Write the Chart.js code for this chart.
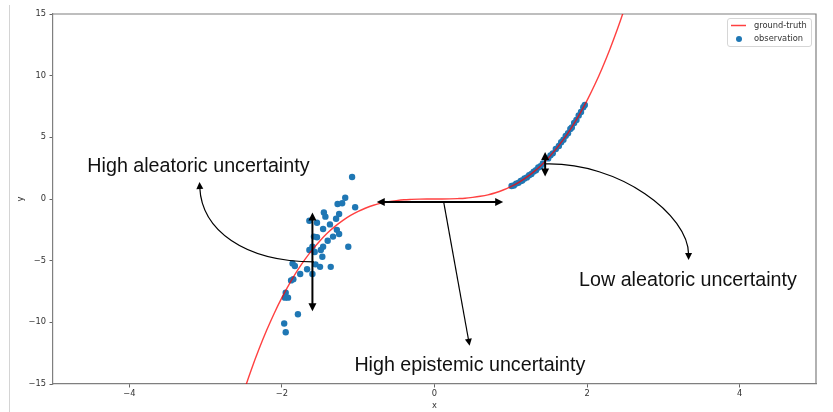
<!DOCTYPE html>
<html>
<head>
<meta charset="utf-8">
<script src="https://cdn.jsdelivr.net/npm/chart.js@4.4.1/dist/chart.umd.min.js"></script>
<style>
  html, body { margin: 0; padding: 0; background: #fff; }
</style>
</head>
<body>
<canvas id="chart" width="833" height="412"></canvas>
<script>
// ground-truth curve
const curveX = [-2.6, -2.5, -2.4, -2.3, -2.2, -2.1, -2.0, -1.9, -1.8, -1.7, -1.6, -1.5, -1.4, -1.3, -1.2, -1.1, -1.0,
  -0.9, -0.8, -0.7, -0.6, -0.5, -0.4, -0.3, -0.2, -0.1, 0.0, 0.1, 0.2, 0.3, 0.4, 0.5, 0.6, 0.7, 0.8, 0.9,
  1.0, 1.1, 1.2, 1.3, 1.4, 1.5, 1.6, 1.7, 1.8, 1.9, 2.0, 2.1, 2.2, 2.3, 2.4, 2.5, 2.6]
const curveY = [-17.58, -15.63, -13.82, -12.17, -10.65, -9.26, -8.0, -6.86, -5.83, -4.91, -4.1, -3.38, -2.74, -2.2, -1.73, -1.33, -1.0,
  -0.73, -0.51, -0.34, -0.22, -0.13, -0.06, -0.03, -0.01, 0.0, 0.0, 0.0, 0.01, 0.03, 0.06, 0.13, 0.22, 0.34, 0.51, 0.73,
  1.0, 1.33, 1.73, 2.2, 2.74, 3.38, 4.1, 4.91, 5.83, 6.86, 8.0, 9.26, 10.65, 12.17, 13.82, 15.63, 17.58]

// observations: noisy cluster on the left, tight cluster on the right
const obsX = [-1.08, -1.17, -1.27, -1.21, -1.04, -1.25, -1.29, -1.45, -1.43, -1.64, -1.54, -1.37, -1.46, -1.28,
  -1.25, -1.33, -1.40, -1.58, -1.54, -1.13, -1.46, -1.49, -1.64, -1.57, -1.47, -1.60, -1.86, -1.83, -1.56,
  -1.50, -1.36, -1.67, -1.60, -1.76, -1.85, -1.88, -1.95, -1.96, -1.92, -1.79, -1.97, -1.95,
  1.01, 1.04, 1.07, 1.10, 1.13, 1.15, 1.18, 1.21, 1.24, 1.27, 1.30, 1.33, 1.36, 1.39, 1.42, 1.49, 1.52,
  1.55, 1.59, 1.63, 1.66, 1.69, 1.72, 1.75, 1.78, 1.80, 1.83, 1.86, 1.89, 1.92, 1.95, 1.97]
const obsY = [1.78, 0.10, -0.40, -0.35, -0.67, -1.22, -1.60, -1.10, -1.43, -1.76, -1.92, -2.06, -2.43, -2.50,
  -2.84, -3.05, -3.38, -3.05, -3.10, -3.87, -3.87, -4.14, -4.14, -4.30, -4.68, -3.87, -5.22, -5.43, -5.30,
  -5.50, -5.50, -5.70, -6.08, -6.08, -6.50, -6.60, -7.60, -8.00, -8.00, -9.35, -10.10, -10.80,
  1.05, 1.10, 1.25, 1.31, 1.46, 1.50, 1.66, 1.75, 1.93, 2.03, 2.22, 2.33, 2.55, 2.66, 2.88, 3.29, 3.54,
  3.70, 4.05, 4.30, 4.60, 4.80, 5.12, 5.33, 5.67, 5.80, 6.16, 6.40, 6.78, 7.05, 7.44, 7.62]

const xTicks = [-4, -2, 0, 2, 4]
const yTicks = [-15, -10, -5, 0, 5, 10, 15]

// annotation arrows and labels, in data units
const arrows = [
  { kind: 'double', pts: [[-1.6, -1.1], [-1.6, -9.1]], lw: 2 },
  { kind: 'double', pts: [[-0.757, -0.24], [0.9, -0.24]], lw: 2 },
  { kind: 'double', pts: [[1.45, 3.81], [1.45, 1.82]], lw: 2 },
  { kind: 'curve', pts: [[-1.58, -5.1], [-2.5, -5.1], [-3.05, -2.5], [-3.08, 1.38]], lw: 1.2 },
  { kind: 'curve', pts: [[1.45, 2.84], [2.43, 3.0], [3.33, -1.3], [3.33, -4.95]], lw: 1.2 },
  { kind: 'single', pts: [[0.12, -0.24], [0.46, -11.9]], lw: 1.2 }
]
const labels = [
  { text: 'High aleatoric uncertainty', at: [-4.55, 2.19] },
  { text: 'Low aleatoric uncertainty', at: [1.895, -7.05] },
  { text: 'High epistemic uncertainty', at: [-1.05, -13.95] }
]

const tickFont = { family: 'DejaVu Sans', size: 8.3 }
const minus = v => String(v).replace('-', '\u2212')

function head(ctx, tx, ty, ang, len, w) {
  const bx = tx - len * Math.cos(ang), by = ty - len * Math.sin(ang)
  ctx.beginPath()
  ctx.moveTo(tx, ty)
  ctx.lineTo(bx + w / 2 * Math.sin(ang), by - w / 2 * Math.cos(ang))
  ctx.lineTo(bx - w / 2 * Math.sin(ang), by + w / 2 * Math.cos(ang))
  ctx.closePath()
  ctx.fill()
}

const overlay = {
  id: 'overlay',
  beforeDatasetsDraw(chart) {
    const { ctx, chartArea: a } = chart
    ctx.save()
    ctx.strokeStyle = '#7f7f7f'
    ctx.lineWidth = 1.2
    ctx.beginPath()
    ctx.moveTo(a.left, a.top)
    ctx.lineTo(a.right, a.top)
    ctx.lineTo(a.right, a.bottom)
    ctx.stroke()
    // thin page edge on the far left
    ctx.strokeStyle = '#d4d4d4'
    ctx.lineWidth = 1
    ctx.beginPath()
    ctx.moveTo(9.5, 5)
    ctx.lineTo(9.5, 412)
    ctx.stroke()
    ctx.restore()
  },
  afterDatasetsDraw(chart) {
    const { ctx, scales: { x, y }, chartArea: a } = chart
    const P = p => [x.getPixelForValue(p[0]), y.getPixelForValue(p[1])]
    ctx.save()
    ctx.strokeStyle = '#000'
    ctx.fillStyle = '#000'
    arrows.forEach(ar => {
      const pts = ar.pts.map(P)
      ctx.lineWidth = ar.lw
      const big = ar.lw > 1.5
      const len = big ? 8 : 7, w = big ? 8 : 7
      if (ar.kind === 'curve') {
        const [p0, p1, p2, p3] = pts
        const ang = Math.atan2(p3[1] - p2[1], p3[0] - p2[0])
        const ex = p3[0] - len * 0.8 * Math.cos(ang), ey = p3[1] - len * 0.8 * Math.sin(ang)
        ctx.beginPath()
        ctx.moveTo(p0[0], p0[1])
        ctx.bezierCurveTo(p1[0], p1[1], p2[0], p2[1], ex, ey)
        ctx.stroke()
        head(ctx, p3[0], p3[1], ang, len, w)
      } else {
        const [p0, p1] = pts
        const ang = Math.atan2(p1[1] - p0[1], p1[0] - p0[0])
        const c = Math.cos(ang), s = Math.sin(ang)
        const sx = ar.kind === 'double' ? p0[0] + len * 0.8 * c : p0[0]
        const sy = ar.kind === 'double' ? p0[1] + len * 0.8 * s : p0[1]
        ctx.beginPath()
        ctx.moveTo(sx, sy)
        ctx.lineTo(p1[0] - len * 0.8 * c, p1[1] - len * 0.8 * s)
        ctx.stroke()
        head(ctx, p1[0], p1[1], ang, len, w)
        if (ar.kind === 'double') head(ctx, p0[0], p0[1], ang + Math.PI, len, w)
      }
    })
    ctx.font = '19.7px "Liberation Sans", Arial, sans-serif'
    ctx.textBaseline = 'alphabetic'
    ctx.textAlign = 'left'
    ctx.fillStyle = '#111'
    labels.forEach(l => {
      const [px, py] = P(l.at)
      ctx.fillText(l.text, px, py)
    })

    // legend box, matplotlib style
    const x0 = a.right - 89, y0 = a.top + 4, bw = 84, bh = 28
    ctx.fillStyle = 'rgba(255,255,255,0.85)'
    ctx.strokeStyle = '#d6d6d6'
    ctx.lineWidth = 1
    ctx.beginPath()
    ctx.roundRect(x0 + 0.5, y0 + 0.5, bw, bh, 2.5)
    ctx.fill()
    ctx.stroke()
    const [lineSet, dotSet] = chart.data.datasets
    ctx.strokeStyle = lineSet.borderColor
    ctx.lineWidth = 1.5
    ctx.beginPath()
    ctx.moveTo(x0 + 4, y0 + 7.5)
    ctx.lineTo(x0 + 19, y0 + 7.5)
    ctx.stroke()
    ctx.fillStyle = dotSet.backgroundColor
    ctx.beginPath()
    ctx.arc(x0 + 12, y0 + 21, 3, 0, Math.PI * 2)
    ctx.fill()
    ctx.fillStyle = '#333'
    ctx.font = '8.3px "DejaVu Sans"'
    ctx.textBaseline = 'middle'
    ctx.fillText(lineSet.label, x0 + 27, y0 + 7.5)
    ctx.fillText(dotSet.label, x0 + 27, y0 + 21)
    ctx.restore()
  }
}

new Chart(document.getElementById('chart').getContext('2d'), {
  type: 'scatter',
  data: {
    datasets: [
      {
        type: 'line',
        label: 'ground-truth',
        data: curveX.map((v, i) => ({ x: v, y: curveY[i] })),
        borderColor: 'rgba(255,0,0,0.75)',
        borderWidth: 1.4,
        pointRadius: 0,
        cubicInterpolationMode: 'monotone',
        fill: false,
        clip: 0
      },
      {
        type: 'scatter',
        label: 'observation',
        data: obsX.map((v, i) => ({ x: v, y: obsY[i] })),
        backgroundColor: '#1f77b4',
        pointRadius: 3.2,
        borderWidth: 0
      }
    ]
  },
  options: {
    responsive: false,
    animation: false,
    layout: { padding: { top: 14, right: 17, left: 0, bottom: 0 } },
    plugins: { legend: { display: false }, tooltip: { enabled: false } },
    scales: {
      x: {
        type: 'linear',
        min: -5,
        max: 5,
        afterBuildTicks: s => { s.ticks = xTicks.map(v => ({ value: v })) },
        afterFit: s => { s.height = 28 },
        ticks: { callback: minus, font: tickFont, color: '#333', padding: 1.8, maxRotation: 0, autoSkip: false },
        grid: { drawOnChartArea: false, tickLength: 3.5, color: '#666' },
        border: { color: '#7f7f7f', width: 1.2 },
        title: { display: true, text: 'x', font: tickFont, color: '#333', padding: { top: 0, bottom: 1.5 } }
      },
      y: {
        type: 'linear',
        min: -15,
        max: 15,
        afterBuildTicks: s => { s.ticks = yTicks.map(v => ({ value: v })) },
        afterFit: s => { s.width = 53 },
        ticks: { callback: minus, font: tickFont, color: '#333', padding: 3.5, autoSkip: false },
        grid: { drawOnChartArea: false, tickLength: 3.5, color: '#666' },
        border: { color: '#7f7f7f', width: 1.2 },
        title: { display: true, text: 'y', font: tickFont, color: '#333', padding: { top: 16, bottom: 0 } }
      }
    }
  },
  plugins: [overlay]
})
</script>
</body>
</html>
